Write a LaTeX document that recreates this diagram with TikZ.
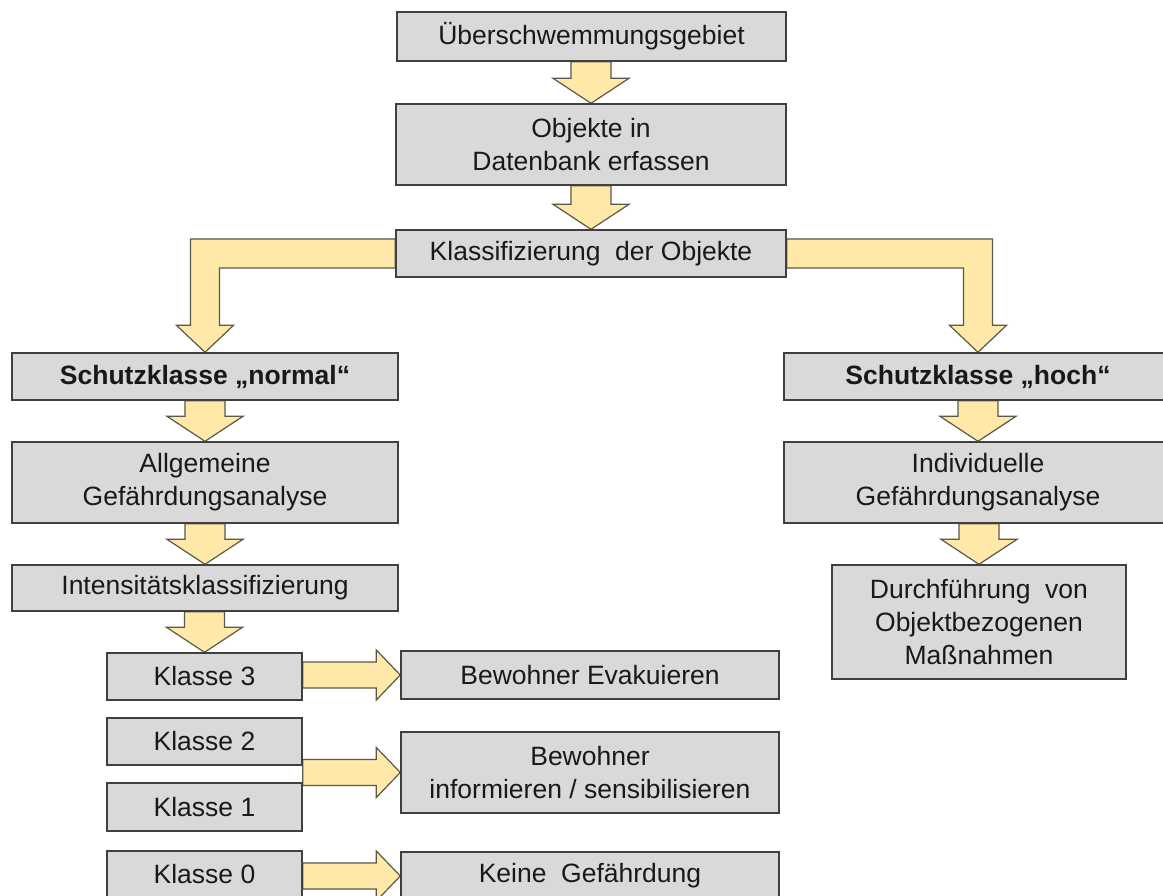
\documentclass[tikz,border=0pt]{standalone}
\usepackage{fontspec}
\setmainfont{Liberation Sans}
\usetikzlibrary{calc,backgrounds}
\definecolor{boxfill}{HTML}{D9D9D9}
\definecolor{boxline}{HTML}{404040}
\definecolor{arrfill}{HTML}{FFE8A8}
\definecolor{arrline}{HTML}{5A5848}
\tikzset{
  box/.style={draw=boxline, fill=boxfill, line width=1.4pt, align=center, inner sep=0pt,
    font=\fontsize{26.5}{33}\selectfont, text=black!90},
  bbox/.style={box, font=\fontsize{26.5}{33}\selectfont\bfseries},
  blk/.style={draw=arrline, fill=arrfill, line width=1.2pt, line join=miter},
}
\newcommand{\vblk}[2]{%
  \path[blk] ($(#1.south -| #2.north)+(-20,0)$) -- ($(#2.north)+(-20,-25)$) -- ($(#2.north)+(-38,-25)$)
    -- (#2.north) -- ($(#2.north)+(38,-25)$) -- ($(#2.north)+(20,-25)$) -- ($(#1.south -| #2.north)+(20,0)$) -- cycle;}
\newcommand{\hblk}[2]{%
  \path[blk] ($(#1.east |- #2.west)+(0,-13)$) -- ($(#2.west)+(-24,-13)$) -- ($(#2.west)+(-24,-25)$)
    -- (#2.west) -- ($(#2.west)+(-24,25)$) -- ($(#2.west)+(-24,13)$) -- ($(#1.east |- #2.west)+(0,13)$) -- cycle;}
\begin{document}
\begin{tikzpicture}[x=1pt,y=-1pt]
\clip (0,0) rectangle (1163,896);
% boxes
\node[box, minimum width=389, minimum height=49] (ueber) at (591.5,36.5) {Überschwemmungsgebiet};
\node[box, minimum width=390, minimum height=81] (obj) at (591,144.5) {Objekte in\\Datenbank erfassen};
\node[box, minimum width=390, minimum height=47] (klass) at (591,253.5) {Klassifizierung \ der Objekte};
\node[bbox, minimum width=386, minimum height=47] (nrm) at (205,376.5) {Schutzklasse „normal“};
\node[bbox, minimum width=388, minimum height=47] (hoch) at (978,376.5) {Schutzklasse „hoch“};
\node[box, minimum width=386, minimum height=81] (allg) at (205,482.5) {Allgemeine\\Gefährdungsanalyse};
\node[box, minimum width=388, minimum height=81] (indiv) at (978,482.5) {Individuelle\\Gefährdungsanalyse};
\node[box, minimum width=386, minimum height=46] (intens) at (205,588) {Intensitätsklassifizierung};
\node[box, minimum width=294, minimum height=114] (durch) at (979,622) {Durchführung \ von\\Objektbezogenen\\Maßnahmen};
\node[box, minimum width=195, minimum height=47] (k3) at (204.5,676.5) {Klasse 3};
\node[box, minimum width=195, minimum height=47] (k2) at (204.5,741.5) {Klasse 2};
\node[box, minimum width=195, minimum height=48] (k1) at (204.5,807) {Klasse 1};
\node[box, minimum width=195, minimum height=47] (k0) at (204.5,874.5) {Klasse 0};
\node[box, minimum width=378, minimum height=48] (evak) at (590,675) {Bewohner Evakuieren};
\node[box, minimum width=378, minimum height=81] (info) at (590,772.5) {Bewohner\\informieren / sensibilisieren};
\node[box, minimum width=378, minimum height=48] (keine) at (590,876) {Keine \ Gefährdung};
% block arrows
\begin{scope}[on background layer]
\vblk{ueber}{obj}
\vblk{obj}{klass}
\vblk{nrm}{allg}
\vblk{allg}{intens}
\vblk{intens}{k3}
\vblk{hoch}{indiv}
\vblk{indiv}{durch}
\hblk{k3}{evak}
\hblk{k2}{info}
\hblk{k0}{keine}
\path[blk] ($(klass.west)+(0,-14.5)$) -- ($(nrm.north |- klass.west)+(-14.5,-14.5)$)
  -- ($(nrm.north)+(-14.5,-27)$) -- ($(nrm.north)+(-28.5,-27)$) -- (nrm.north)
  -- ($(nrm.north)+(28.5,-27)$) -- ($(nrm.north)+(14.5,-27)$)
  -- ($(nrm.north |- klass.west)+(14.5,14.5)$) -- ($(klass.west)+(0,14.5)$) -- cycle;
\path[blk] ($(klass.east)+(0,-14.5)$) -- ($(hoch.north |- klass.east)+(14.5,-14.5)$)
  -- ($(hoch.north)+(14.5,-27)$) -- ($(hoch.north)+(28.5,-27)$) -- (hoch.north)
  -- ($(hoch.north)+(-28.5,-27)$) -- ($(hoch.north)+(-14.5,-27)$)
  -- ($(hoch.north |- klass.east)+(-14.5,14.5)$) -- ($(klass.east)+(0,14.5)$) -- cycle;
\end{scope}
\end{tikzpicture}
\end{document}
